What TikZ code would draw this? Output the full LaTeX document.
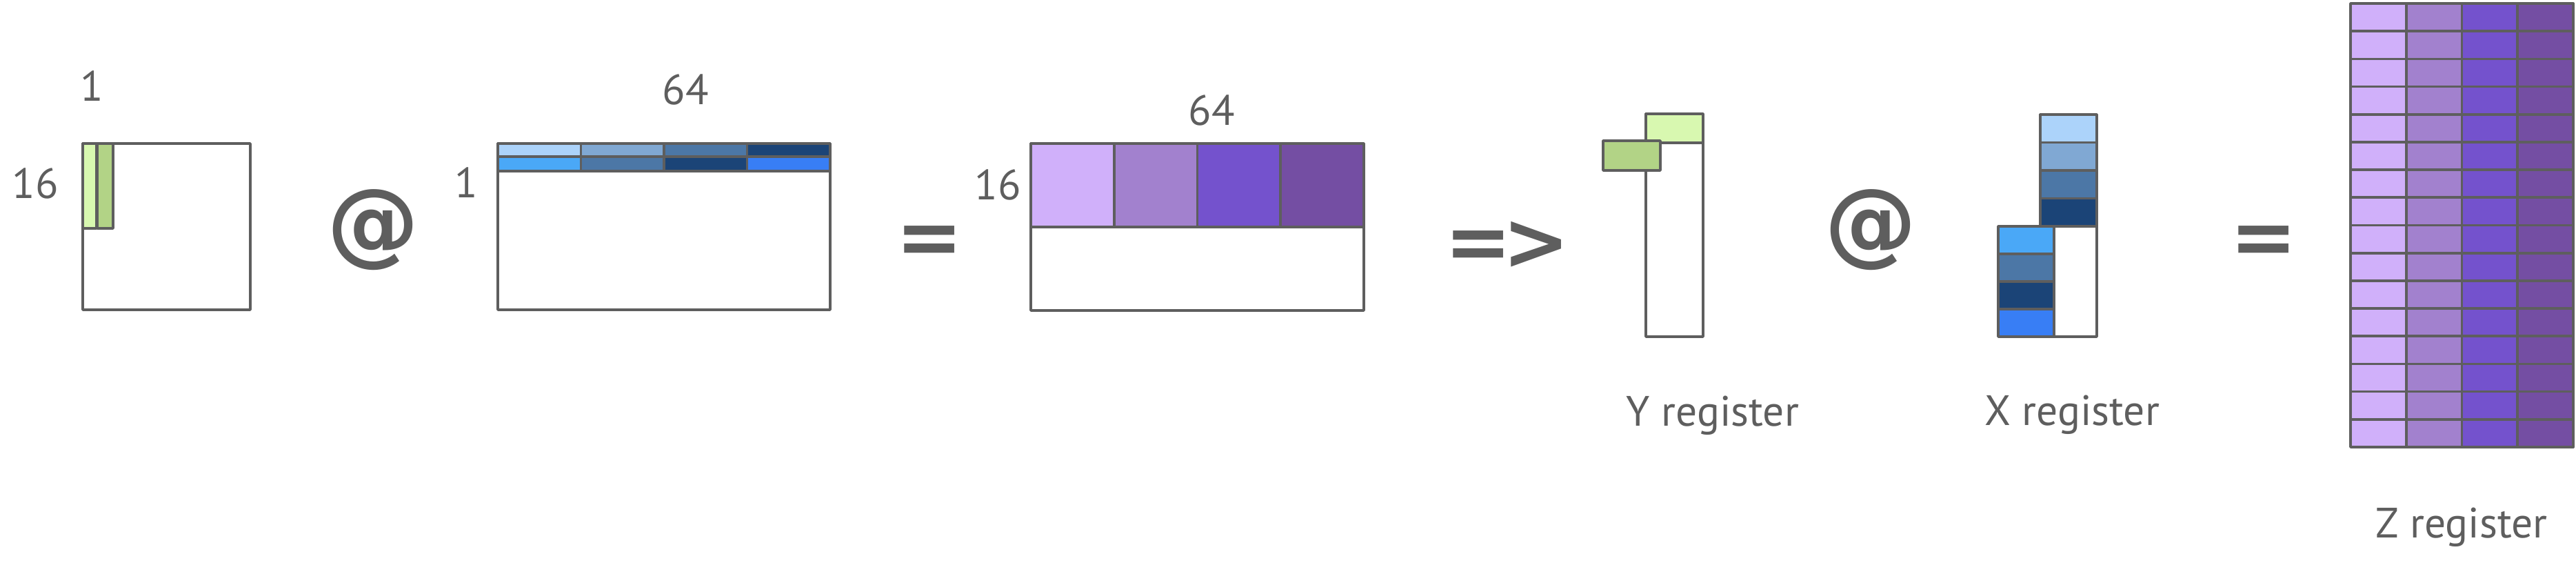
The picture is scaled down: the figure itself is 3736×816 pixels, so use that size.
\documentclass[tikz,border=0pt]{standalone}
\usepackage{fontspec}
\setmainfont{PT Sans}
\newfontfamily\symfont{DejaVu Sans}
\definecolor{ink}{HTML}{5E5E5E}
\definecolor{gA}{HTML}{D8F8B0}
\definecolor{gB}{HTML}{B2D386}
\definecolor{bA}{HTML}{ACD3FA}
\definecolor{bB}{HTML}{80A8D3}
\definecolor{bC}{HTML}{4C77A6}
\definecolor{bD}{HTML}{1B4477}
\definecolor{bE}{HTML}{4AA8F7}
\definecolor{bF}{HTML}{387EF5}
\definecolor{pA}{HTML}{D0B0FA}
\definecolor{pB}{HTML}{A281CE}
\definecolor{pC}{HTML}{7452CD}
\definecolor{pD}{HTML}{744EA3}
\begin{document}
\begin{tikzpicture}[x=0.01cm,y=-0.01cm,
  cell/.style={draw=ink, line width=1.05pt, line join=round},
  lbl/.style={text=ink, font=\fontsize{17.5}{20}\selectfont, inner sep=0pt, anchor=base},
  opsym/.style={text=ink, font=\symfont\bfseries\fontsize{33}{36}\selectfont, inner sep=0pt},
  atsym/.style={text=ink, font=\symfont\bfseries\fontsize{38}{40}\selectfont, inner sep=0pt}]
\useasboundingbox (0,0) rectangle (3736,816);
\fill[white] (0,0) rectangle (3736,816);

% --- element 1: 16 x 16 tile with two green columns
\draw[cell, fill=white] (120,208) rectangle (363,449);
\draw[cell, fill=gA] (120,208) rectangle (140,331);
\draw[cell, fill=gB] (141,208) rectangle (164,331);
\node[lbl] (oneA) at (133,147) {1};
\node[lbl] (sixteenA) at (51,288) {16};

% --- @
\node[atsym] (atA) at (541,333) {@};

% --- element 2: 1 x 64 rows
\draw[cell, fill=white] (722,208) rectangle (1204,449);
\foreach \c [count=\i from 0] in {bA,bB,bC,bD}{
  \draw[cell, fill=\c] ({722+\i*120.5},208) rectangle ({722+(\i+1)*120.5},227);
}
\foreach \c [count=\i from 0] in {bE,bC,bD,bF}{
  \draw[cell, fill=\c] ({722+\i*120.5},227) rectangle ({722+(\i+1)*120.5},248);
}
\node[lbl] (sixtyfourA) at (994,152) {64};
\node[lbl] (oneB) at (676,287) {1};

% --- =
\node[opsym] (eqA) at (1348,356) {=};

% --- element 3: result 16 x 64
\draw[cell, fill=white] (1495,208) rectangle (1978,450);
\foreach \c [count=\i from 0] in {pA,pB,pC,pD}{
  \draw[cell, fill=\c] ({1495+\i*120.75},208) rectangle ({1495+(\i+1)*120.75},329);
}
\node[lbl] (sixtyfourB) at (1757,182) {64};
\node[lbl] (sixteenB) at (1447,290) {16};

% --- =>
\node[opsym] (implies) at (2186,356) {=\kern-0.12em>};

% --- Y register
\draw[cell, fill=white] (2387,165) rectangle (2470,488);
\draw[cell, fill=gA] (2387,165) rectangle (2470,207);
\draw[cell, fill=gB] (2325,204) rectangle (2408,247);
\node[lbl] (ylab) at (2484,618) {Y register};

% --- @
\node[atsym] (atB) at (2713,333) {@};

% --- X register
\draw[cell, fill=white] (2959,166) rectangle (3041,488);
\foreach \c [count=\i from 0] in {bA,bB,bC,bD}{
  \draw[cell, fill=\c] (2959,{166+\i*40.5}) rectangle (3041,{166+(\i+1)*40.5});
}
\foreach \c [count=\i from 0] in {bE,bC,bD,bF}{
  \draw[cell, fill=\c] (2898,{328+\i*40}) rectangle (2979,{328+(\i+1)*40});
}
\node[lbl] (xlab) at (3005,617) {X register};

% --- =
\node[opsym] (eqB) at (3283,356) {=};

% --- Z register
\foreach \c [count=\i from 0] in {pA,pB,pC,pD}{
  \foreach \j in {0,...,15}{
    \draw[cell, fill=\c] ({3409+\i*80.75},{5+\j*40.1875}) rectangle ({3409+(\i+1)*80.75},{5+(\j+1)*40.1875});
  }
}
\node[lbl] (zlab) at (3570,780) {Z register};
\end{tikzpicture}
\end{document}
